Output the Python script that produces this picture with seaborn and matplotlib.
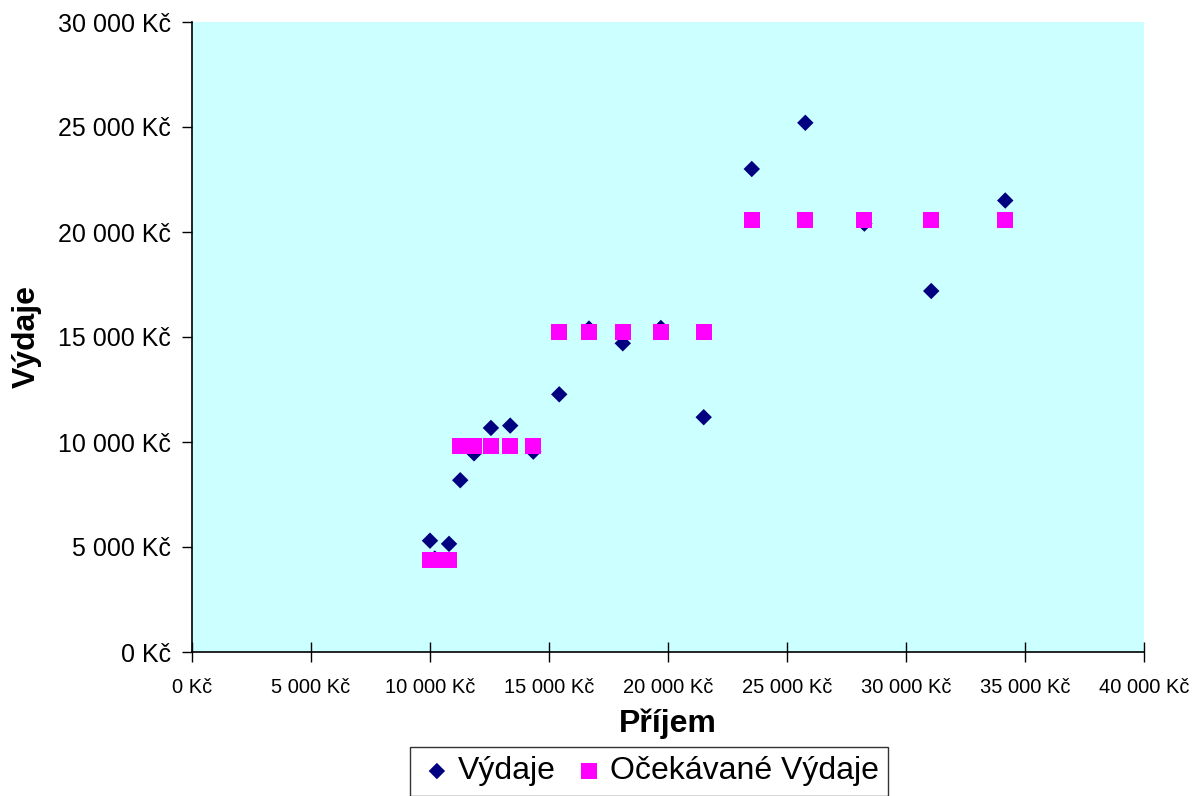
import pandas as pd
import seaborn as sns
import matplotlib.pyplot as plt
from matplotlib.ticker import FuncFormatter, MultipleLocator

# Data
prijem = [10000, 10200, 10800, 11270, 11850, 12560, 13370, 14340, 15430,
          16680, 18100, 19700, 21500, 23520, 25770, 28250, 31060, 34170]
vydaje = [5300, 4450, 5150, 8180, 9460, 10670, 10780, 9540, 12270,
          15400, 14700, 15430, 11180, 23000, 25200, 20400, 17190, 21500]
ocekavane = [4400, 4400, 4400, 9810, 9810, 9810, 9810, 9810, 15220,
             15220, 15220, 15220, 15220, 20570, 20570, 20570, 20570, 20570]

df = pd.DataFrame({'Prijem': prijem, 'Vydaje': vydaje, 'Ocekavane': ocekavane})

sns.set_style('white')
plt.rcParams['font.family'] = ['Liberation Sans', 'DejaVu Sans']
plt.rcParams['text.color'] = 'black'
plt.rcParams['axes.labelcolor'] = 'black'

fig = plt.figure(figsize=(12.01, 7.96), dpi=100)
ax = fig.add_axes([192 / 1201, 1 - 652 / 796, (1144 - 192) / 1201, (652 - 22) / 796])
ax.set_facecolor('#CCFFFF')

sns.scatterplot(data=df, x='Prijem', y='Vydaje', marker='D', s=70,
                color='#000080', edgecolor='none', label='Výdaje', ax=ax, zorder=3)
sns.scatterplot(data=df, x='Prijem', y='Ocekavane', marker='s', s=135,
                color='#FF00FF', edgecolor='none', label='Očekávané Výdaje', ax=ax, zorder=4)

ax.set_xlim(0, 40000)
ax.set_ylim(0, 30000)
ax.xaxis.set_major_locator(MultipleLocator(5000))
ax.yaxis.set_major_locator(MultipleLocator(5000))

def kc(v, pos):
    return '{:,}'.format(int(v)).replace(',', ' ') + ' Kč'

ax.xaxis.set_major_formatter(FuncFormatter(kc))
ax.yaxis.set_major_formatter(FuncFormatter(kc))

for s in ['top', 'right']:
    ax.spines[s].set_visible(False)
for s in ['left', 'bottom']:
    ax.spines[s].set_color('black')
    ax.spines[s].set_linewidth(1.2)

ax.tick_params(axis='y', direction='out', length=7, width=1, colors='black', labelsize=18, pad=8, left=True)
ax.tick_params(axis='x', direction='inout', length=14, width=1, colors='black', labelsize=14.5, pad=12, bottom=True)

ax.set_xlabel('Příjem', fontsize=23, fontweight='bold', labelpad=8)
ax.set_ylabel('Výdaje', fontsize=23, fontweight='bold', labelpad=10)
ax.yaxis.set_label_coords(-150 / 952, 0.5)

leg = ax.legend(loc='lower center', bbox_to_anchor=(649 / 1201, 0.0), bbox_transform=fig.transFigure,
                ncol=2, fontsize=23, frameon=True, fancybox=False, borderpad=0.3, borderaxespad=0,
                handletextpad=0.1, columnspacing=0.5, handlelength=1.1, markerscale=1.0)
leg.get_frame().set_edgecolor('black')
leg.get_frame().set_linewidth(1)

fig.savefig('out.png', dpi=100)
